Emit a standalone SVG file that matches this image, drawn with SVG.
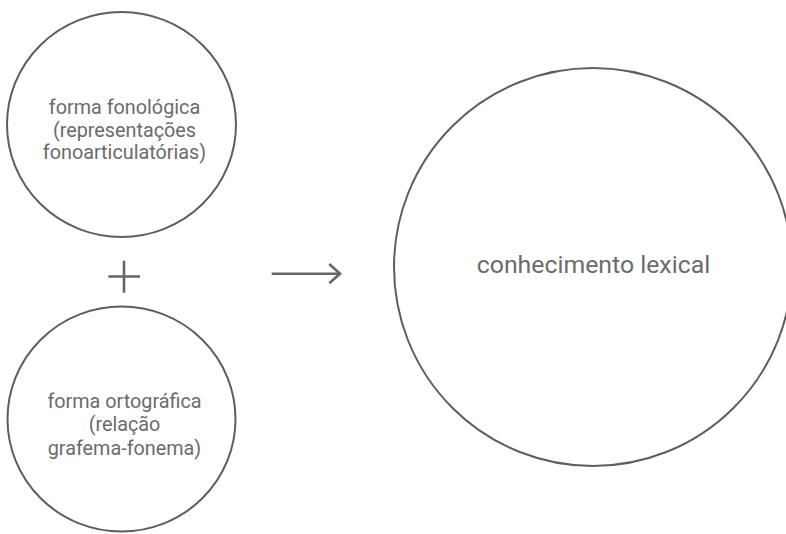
<svg xmlns="http://www.w3.org/2000/svg" width="786" height="534" viewBox="0 0 786 534">
<style>
.node{fill:#fff;stroke:#5e5e5e;stroke-width:2}
.lbl{font-family:Roboto,"Liberation Sans",sans-serif;fill:#6b6b6b;text-anchor:middle}
.s{font-size:19.8px}
.b{font-size:24.8px}
.con{stroke:#666;stroke-width:2.6;fill:none;stroke-linecap:butt}
</style>
<rect width="786" height="534" fill="#fff"/>
<g id="node-fonologica">
<ellipse class="node" cx="121.5" cy="124.5" rx="114.5" ry="112.5"/>
<text class="lbl s" x="124.5" y="114">forma fonológica</text>
<text class="lbl s" x="124.5" y="136.7">(representações</text>
<text class="lbl s" x="124.5" y="159.3">fonoarticulatórias)</text>
</g>
<g id="node-ortografica">
<ellipse class="node" cx="121.5" cy="419" rx="114" ry="112.5"/>
<text class="lbl s" x="124.5" y="408">forma ortográfica</text>
<text class="lbl s" x="124.5" y="431.3">(relação</text>
<text class="lbl s" x="124.5" y="454.6">grafema-fonema)</text>
</g>
<g id="node-lexical">
<circle class="node" cx="593" cy="267" r="199"/>
<text class="lbl b" x="593.5" y="273">conhecimento lexical</text>
</g>
<g id="connectors">
<path class="con" d="M108.3 276.5H140M124 260.7V292.7"/>
<path class="con" d="M271.7 273.7H340"/>
<path class="con" d="M329.3 264L340 273.7L329.3 283.3"/>
</g>
</svg>
